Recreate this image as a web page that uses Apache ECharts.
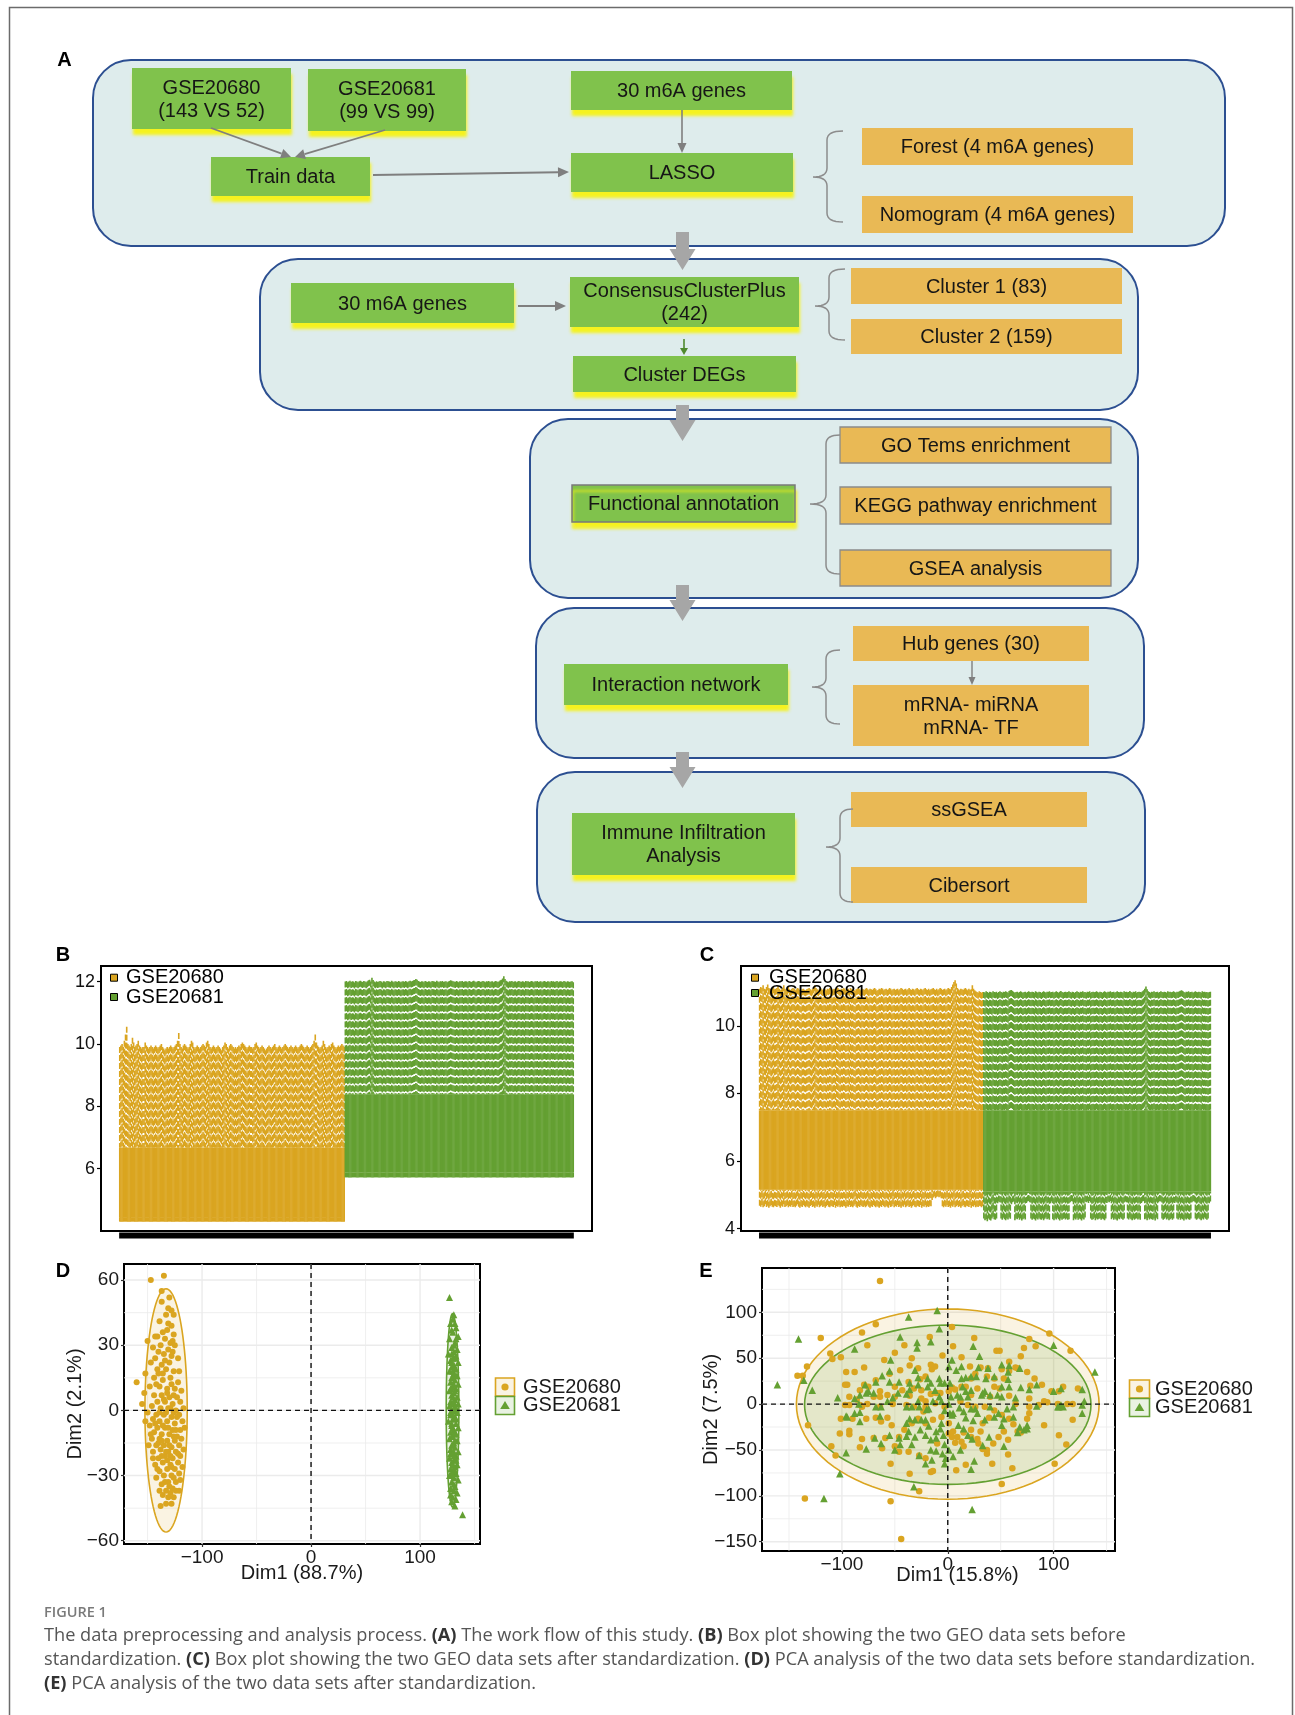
<!DOCTYPE html>
<html><head><meta charset="utf-8">
<script src="https://cdn.jsdelivr.net/npm/echarts@6/dist/echarts.min.js"></script>
<style>html,body{margin:0;padding:0;background:#fff}#c{width:1295px;height:1715px}</style>
</head><body><div id="c"></div>
<script>
// ================= DATA =================
const groups = ['GSE20680', 'GSE20681'];
// Panel B (before standardization): per-sample upper whisker ends; shared lower stats [min, q1, q3]
const b680Box = [4.30, 4.42, 6.67];
const b681Box = [5.72, 5.87, 8.37];
const b680Max = [
9.9,9.95,10.0,9.9,10.1,10.3,10.55,10.0,9.95,9.9,10.0,10.2,10.05,9.9,9.95,
10.0,10.1,9.95,9.9,9.85,9.9,9.9,10.05,9.95,9.9,9.85,9.9,9.95,9.9,9.85,
9.9,9.95,9.9,9.85,9.9,9.95,10.0,9.9,9.85,9.8,9.85,9.9,9.85,9.9,9.95,
9.9,9.85,9.9,9.95,10.0,10.1,10.35,10.0,9.9,9.85,9.95,10.0,9.95,9.9,9.85,
9.9,10.0,10.1,10.05,9.9,9.85,9.9,9.95,9.9,9.85,9.9,9.95,10.0,9.95,9.9,
10.05,10.1,10.0,9.9,9.85,9.9,9.95,9.9,9.85,9.9,9.95,9.9,9.85,9.8,9.9,
9.95,10.05,10.0,9.9,9.85,9.95,10.0,9.95,9.9,9.85,9.9,9.85,9.9,9.95,9.9,
10.0,10.05,10.0,9.95,9.9,9.85,9.9,9.95,9.9,9.9,9.85,9.9,10.0,10.05,9.95,
9.9,9.85,9.9,9.95,9.9,9.85,9.8,9.85,9.9,9.95,9.9,9.85,9.9,9.95,10.0,
9.9,9.85,9.9,9.95,9.9,9.85,9.9,9.95,10.0,9.95,9.9,9.85,9.9,9.95,9.9,
9.85,9.9,9.95,9.9,9.85,9.9,9.95,10.0,9.95,9.9,9.85,9.9,9.95,9.9,9.85,
9.9,9.95,10.0,10.1,10.3,10.05,9.95,9.9,9.85,9.9,9.95,10.1,10.0,9.9,9.85,
9.9,9.95,9.9,10.0,10.05,9.95,9.9,9.85,9.9,9.95,9.9,9.95,10.0,9.95,9.9];
const b681Max = [
12.0,12.02,11.98,12.0,12.03,11.99,12.01,12.0,11.97,12.02,12.0,11.98,12.01,12.03,12.0,
11.99,12.02,12.0,11.98,12.01,12.04,12.06,12.0,12.12,12.05,12.0,11.98,12.01,11.99,12.0,
12.02,12.0,11.97,12.01,12.0,11.98,12.02,12.01,12.0,11.99,12.03,12.0,11.98,12.01,12.0,
11.99,12.02,12.0,11.98,12.0,12.01,11.99,12.02,12.0,11.98,12.01,12.03,12.0,12.02,12.04,
12.05,12.08,12.06,12.02,12.0,11.99,12.01,12.0,11.98,12.02,12.0,11.99,12.01,12.0,11.98,
12.02,12.01,12.0,11.99,12.03,12.0,11.98,12.01,12.0,12.02,11.99,12.0,12.01,11.98,12.0,
12.02,12.04,12.03,12.01,12.0,11.99,12.02,12.0,11.98,12.01,12.0,12.02,11.99,12.0,12.01,
12.0,11.98,12.02,12.0,11.99,12.01,12.03,12.0,11.98,12.0,12.02,12.01,11.99,12.0,12.02,
12.0,11.98,12.01,12.0,12.02,11.99,12.0,12.01,11.98,12.0,12.02,12.0,11.99,12.01,12.04,
12.06,12.1,12.17,12.08,12.03,12.0,11.98,12.01,12.0,12.02,11.99,12.0,12.01,11.98,12.0,
12.02,12.0,11.99,12.01,12.0,11.98,12.02,12.0,12.01,11.99,12.0,12.02,12.0,11.98,12.01,
12.0,12.02,11.99,12.0,12.01,11.98,12.0,12.02,12.0,11.99,12.01,12.0,11.98,12.02,12.0,
12.01,11.99,12.0,12.02,11.98,12.0,12.01,12.0,11.99,12.02,12.0,11.98,12.01,12.0,11.99,
12.0,12.01,11.98];
// Panel C (after standardization): shared box [q1, q3]; per-sample whisker ends
const c680Box = [5.15, 7.50];
const c681Box = [5.10, 7.50];
const c680Max = [
11.1,11.15,11.12,11.2,11.1,11.08,11.15,11.22,11.12,11.1,11.05,11.1,11.14,11.08,11.1,
11.12,11.18,11.1,11.05,11.08,11.12,11.2,11.1,11.06,11.1,11.15,11.08,11.05,11.1,11.12,
11.1,11.05,11.08,11.12,11.1,11.06,11.04,11.08,11.1,11.07,11.05,11.08,11.1,11.12,11.08,
11.05,11.1,11.15,11.2,11.12,11.08,11.05,11.1,11.12,11.08,11.06,11.1,11.08,11.05,11.1,
11.08,11.12,11.1,11.05,11.08,11.1,11.06,11.15,11.12,11.08,11.05,11.1,11.08,11.12,11.1,
11.06,11.08,11.1,11.05,11.12,11.08,11.1,11.06,11.04,11.08,11.1,11.12,11.08,11.05,11.1,
11.08,11.06,11.1,11.12,11.08,11.05,11.1,11.08,11.06,11.1,11.12,11.08,11.04,11.06,11.1,
11.08,11.12,11.1,11.05,11.08,11.1,11.06,11.08,11.12,11.1,11.05,11.08,11.1,11.06,11.08,
11.1,11.05,11.08,11.12,11.1,11.06,11.08,11.1,11.05,11.08,11.12,11.08,11.06,11.1,11.08,
11.05,11.1,11.12,11.08,11.06,11.1,11.08,11.05,11.1,11.12,11.08,11.06,11.1,11.05,11.08,
11.1,11.12,11.08,11.06,11.1,11.05,11.08,11.12,11.1,11.06,11.08,11.1,11.05,11.08,11.12,
11.1,11.08,11.15,11.22,11.3,11.35,11.25,11.12,11.08,11.05,11.1,11.08,11.06,11.1,11.12,
11.08,11.05,11.1,11.06,11.08,11.2,11.1,11.05,11.02,11.0,10.98,11.02,11.0,10.98,11.0];
const c681Max = [
11.0,10.98,11.02,11.0,10.97,11.01,11.0,10.98,11.02,11.0,10.99,11.01,10.97,11.0,11.02,
11.0,10.98,11.01,11.0,11.02,11.0,10.98,11.03,11.05,11.06,11.03,11.0,10.98,11.0,11.01,
10.98,11.0,11.02,11.0,10.97,11.0,11.01,10.98,11.0,11.02,11.0,10.99,11.01,11.0,10.98,
11.02,11.0,10.98,11.01,11.0,10.97,11.0,11.02,11.0,10.98,11.01,11.0,11.02,10.99,11.0,
11.01,10.98,11.0,11.02,11.0,10.98,11.01,11.03,11.0,10.98,11.0,11.01,10.99,11.0,11.02,
11.0,10.98,11.01,11.0,10.97,11.0,11.02,11.0,10.98,11.01,11.0,11.02,10.99,11.0,10.98,
11.01,11.0,11.02,10.98,11.0,11.01,10.99,11.0,11.02,11.0,10.98,11.01,11.0,10.97,11.0,
11.02,11.0,10.98,11.01,11.0,11.02,10.99,11.0,11.01,10.98,11.0,11.02,11.0,10.99,11.01,
11.0,10.98,11.02,11.0,11.01,10.99,11.0,11.03,11.0,10.98,11.01,11.0,11.02,10.98,11.0,
11.01,11.0,10.99,11.02,11.05,11.1,11.16,11.08,11.02,11.0,10.98,11.01,11.0,11.02,10.99,
11.0,11.01,10.98,11.0,11.02,11.0,10.99,11.01,11.0,10.98,11.02,11.0,11.01,10.99,11.0,
11.02,11.0,10.98,11.01,11.0,11.02,11.04,11.05,11.03,11.0,10.98,11.01,11.0,11.02,10.99,
11.0,11.01,10.98,11.0,11.02,11.0,10.99,11.01,11.0,10.98,11.02,11.0,11.01,10.99,11.0,
10.98,11.0,11.01];
const c680Min = [
4.68,4.65,4.7,4.63,4.66,4.72,4.64,4.68,4.62,4.66,4.7,4.65,4.63,4.68,4.66,
4.64,4.7,4.66,4.62,4.68,4.65,4.72,4.64,4.66,4.69,4.63,4.67,4.65,4.7,4.64,
4.66,4.63,4.68,4.72,4.65,4.62,4.67,4.64,4.7,4.66,4.63,4.68,4.65,4.62,4.67,
4.7,4.64,4.66,4.62,4.68,4.65,4.71,4.63,4.66,4.69,4.64,4.67,4.62,4.66,4.7,
4.65,4.63,4.68,4.66,4.64,4.7,4.62,4.67,4.65,4.69,4.63,4.66,4.64,4.68,4.66,
4.62,4.67,4.65,4.7,4.64,4.66,4.63,4.68,4.72,4.65,4.62,4.67,4.64,4.69,4.66,
4.64,4.68,4.63,4.66,4.71,4.65,4.62,4.67,4.64,4.7,4.66,4.63,4.68,4.65,4.62,
4.67,4.64,4.7,4.66,4.63,4.68,4.65,4.62,4.69,4.64,4.66,4.72,4.63,4.67,4.65,
4.7,4.64,4.66,4.62,4.68,4.65,4.71,4.63,4.66,4.69,4.64,4.67,4.62,4.66,4.7,
4.65,4.63,4.68,4.66,4.64,4.7,4.62,4.67,4.65,4.69,4.63,4.66,4.64,4.68,4.66,
4.85,4.92,4.95,4.9,4.94,4.96,4.93,4.95,4.9,4.66,4.63,4.68,4.65,4.7,4.64,
4.66,4.62,4.68,4.65,4.71,4.63,4.66,4.69,4.64,4.67,4.62,4.66,4.7,4.65,4.63,
4.68,4.66,4.64,4.7,4.62,4.67,4.65,4.69,4.63,4.66,4.64,4.68,4.66,4.63,4.67];
const c681Min = [
4.3,4.25,4.28,4.22,4.3,4.26,4.24,4.3,4.35,4.28,4.26,4.3,4.75,4.8,4.78,
4.3,4.26,4.32,4.28,4.25,4.3,4.27,4.33,4.29,4.72,4.78,4.8,4.25,4.3,4.28,
4.32,4.26,4.3,4.24,4.28,4.31,4.27,4.76,4.8,4.82,4.78,4.3,4.26,4.3,4.28,
4.24,4.3,4.27,4.32,4.28,4.26,4.3,4.25,4.29,4.33,4.28,4.3,4.26,4.75,4.8,
4.28,4.25,4.3,4.27,4.32,4.28,4.24,4.3,4.26,4.29,4.31,4.27,4.3,4.26,4.28,
4.78,4.82,4.8,4.25,4.3,4.27,4.32,4.26,4.3,4.28,4.24,4.3,4.27,4.33,4.78,
4.8,4.76,4.82,4.3,4.26,4.28,4.32,4.25,4.3,4.27,4.29,4.31,4.26,4.3,4.28,
4.25,4.3,4.76,4.8,4.78,4.82,4.28,4.32,4.26,4.3,4.27,4.24,4.3,4.28,4.33,
4.29,4.26,4.3,4.8,4.78,4.3,4.27,4.32,4.28,4.25,4.3,4.26,4.29,4.31,4.27,
4.3,4.26,4.76,4.8,4.82,4.28,4.3,4.25,4.32,4.27,4.3,4.28,4.26,4.3,4.24,
4.32,4.28,4.78,4.82,4.8,4.3,4.26,4.29,4.33,4.27,4.3,4.25,4.28,4.31,4.26,
4.3,4.76,4.8,4.3,4.27,4.32,4.26,4.3,4.28,4.24,4.3,4.27,4.31,4.28,4.26,
4.3,4.78,4.82,4.8,4.3,4.26,4.29,4.32,4.28,4.25,4.3,4.27,4.33,4.29,4.26,
4.3,4.75,4.8];
const bYTicks = [6, 8, 10, 12];
const cYTicks = [4, 6, 8, 10];
// Panel D (PCA before)
const dXTicks = [-100, 0, 100];
const dYTicks = [-60, -30, 0, 30, 60];
const dMinorX = [-150, -50, 50, 150];
const dMinorY = [-45, -15, 15, 45];
const dEll680 = [-133, 0, 19.4, 56];
const dEll681 = [129.8, 0, 5.8, 44.5];
const dPts680 = [[-147,60],[-135,62],[-137,50],[-130,52],[-128,46],[-133,44],[-126,44],[-139,41],[-131,40],[-128,39],[-143,34],[-150,32],[-141,34],[-134,33],[-127,32],[-138,30],[-145,29],[-131,28],[-125,30],[-140,27],[-135,26],[-128,25],[-143,24],[-130,22],[-122,24],[-137,21],[-147,22],[-133,19],[-126,18],[-140,17],
[-160,13],[-152,17],[-144,15],[-136,14],[-129,15],[-122,13],[-148,11],[-139,11],[-132,10],[-125,10],[-119,9],[-153,8],[-144,7],[-137,7],[-130,6],[-123,6],[-141,4],[-134,4],[-127,3],[-120,4],[-146,2],[-138,1],[-131,1],[-124,0],[-117,1],
[-150,-1],[-142,-2],[-135,-2],[-128,-3],[-121,-2],[-145,-4],[-139,-5],[-132,-5],[-125,-6],[-118,-5],[-148,-7],[-141,-8],[-134,-8],[-127,-9],[-120,-9],[-144,-10],[-137,-11],[-130,-11],[-123,-12],[-139,-13],[-132,-14],[-125,-14],[-146,-13],[-119,-13],[-135,-16],
[-142,-16],[-128,-17],[-121,-16],[-138,-18],[-131,-19],[-124,-19],[-145,-19],[-134,-21],[-127,-22],[-140,-22],[-120,-21],[-136,-24],[-129,-25],[-122,-24],[-143,-25],[-132,-27],[-125,-27],[-139,-28],[-118,-26],[-135,-30],[-128,-30],[-142,-31],[-121,-29],
[-131,-33],[-124,-33],[-137,-34],[-127,-36],[-133,-37],[-120,-32],[-129,-38],[-136,-39],[-126,-40],[-133,-43],[-130,-35],[-139,-37],
[-136,36],[-132,37],[-129,31],[-136,17],[-142,12],[-128,12],[-121,18],[-133,-1],[-126,-1],[-139,-1],[-131,-8],[-124,-9],[-136,-7],[-140,-15],[-126,-12],[-133,-19],[-137,-21],[-129,-21],[-122,-20],[-141,-27],[-126,-31],[-134,-33],[-131,-40],[-124,-37],[-128,-43],[-135,5],[-129,1],[-143,-6],[-132,8],[-126,7],[-147,-11],[-117,-18],[-130,-16],[-137,-14],[-123,-3],[-141,19],[-134,23],[-127,27],[-131,47],[-137,55],[-126,35],[-121,-37],[-138,-44],[-145,-22],[-116,-8],[-152,-5],[-149,-16],[-155,3],[-128,-26],[-132,-23]];
const dPts681 = [[131,44],[128,40],[133,38],[130,36],[135,34],[127,33],[132,31],[129,29],[134,28],[131,27],[126,26],[133,25],[130,24],[128,23],[135,22],[131,21],[129,20],[133,19],[127,18],[131,17],[134,16],[129,15],[132,14],[128,13],[135,12],[130,11],[133,10],[127,9],[131,8],[129,7],[134,6],[132,5],[128,4],[130,3],[135,3],[127,2],[133,1],[129,0],[131,0],[134,-1],[128,-2],[132,-3],[130,-4],[126,-5],[133,-6],[129,-7],[135,-8],[131,-9],[128,-10],[133,-11],[130,-12],[127,-13],[134,-14],[131,-15],[129,-16],[132,-17],[128,-18],[135,-19],[130,-20],[133,-21],[127,-22],[131,-23],[129,-24],[134,-25],[132,-26],[128,-27],[130,-28],[133,-29],[127,-30],[131,-31],[135,-32],[129,-33],[132,-35],[128,-36],[131,-37],[134,-38],[130,-40],[129,-42],[132,-44],[127,52],[139,-48],
[130,15],[132,9],[128,-1],[133,-4],[130,-8],[129,-12],[132,-14],[130,20],[131,30],[133,33],[129,37],[130,-25],[131,-34],[128,-39],[133,-41],[130,42],[132,40],[129,26],[131,12],[130,6],[128,-20],[133,-23],[131,-19],[130,-30],[129,-6],[132,2],[130,-2],[131,4],[128,10],[133,16],[129,22],[132,24],[130,18],[131,-27],[129,-29],[132,-10],[130,-16],[131,-21]];
// Panel E (PCA after)
const eXTicks = [-100, 0, 100];
const eYTicks = [-150, -100, -50, 0, 50, 100];
const eMinorX = [-150, -50, 50, 150];
const eMinorY = [-125, -75, -25, 25, 75, 125];
const eEll680 = [0, 0, 143, 103.7];
const eEll681 = [0, -0.7, 135.3, 86.8];
const ePts680 = [[-64,134],[-68,87],[-81,78],[-120,72],[-76,64],[-111,55],[-109,49],[-133,41],[-137,31],[-79,40],[-96,35],[-88,35],[-95,21],[-79,21],[-68,26],[-55,33],[-45,37],[-50,56],[-60,48],[-41,64],[-34,50],[-28,39],[-17,73],[-15,38],[-12,41],[-5,53],[4,84],[5,63],[13,51],[25,72],[21,41],[31,40],[38,39],[46,58],[49,58],[58,46],[66,39],[69,52],[72,61],[77,71],[83,63],[96,77],[116,58],[78,20],[98,14],[105,14],[113,0],[118,-17],[104,0],[94,2],[77,-10],[66,-30],[57,-39],[57,-55],[61,-70],[51,-87],[101,-65],[105,-34],[112,-44],[37,-50],[37,-54],[43,-43],[44,-7],[35,-3],[26,-3],[22,10],[17,19],[7,16],[4,18],[1,14],[-16,43],[-25,6],[-21,-3],[-32,-3],[-39,-1],[-52,0],[-64,-3],[-76,0],[-93,8],[-93,-1],[-81,-3],[-68,-15],[-77,-16],[-57,-15],[-93,-29],[-93,-33],[-83,-47],[-70,-37],[-59,-37],[-46,-36],[-46,-52],[-37,-52],[-27,-56],[-14,-73],[-16,-74],[-27,-95],[-54,-106],[-44,-147],[-135,-103],[-132,-23],[-142,31],[-101,51],[-97,-1],[-97,21],[-36,42],[-21,30],[-26,27],[-32,17],[-43,15],[-50,8],[-36,9],[-16,11],[-11,12],[-7,12],[-23,-8],[-28,-16],[-34,-21],[-21,-21],[-14,-17],[-6,-14],[1,-21],[5,-30],[4,-36],[7,-42],[15,-31],[22,-28],[31,-30],[33,-21],[39,-15],[51,-12],[58,-16],[62,-22],[69,-31],[75,-16],[77,-3],[64,0],[58,9],[49,17],[44,19],[40,8],[28,17],[13,19],[22,28],[26,33],[37,30],[44,28],[51,38],[53,28],[58,36],[64,40],[75,35],[82,28],[89,21],[91,3],[86,-1],[77,6],[118,0],[19,-1],[12,3],[-3,-3],[-12,1],[-21,3],[-25,15],[-37,24],[-50,19],[-57,10],[-64,14],[-70,8],[-64,8],[-75,19],[-83,15],[-86,5],[-83,-1],[-90,-16],[-101,-16],[-102,-32],[-106,-56],[-110,-46],[-81,-38],[-63,-19],[-53,-23],[-41,-28],[-50,-46],[-62,-48],[-54,-65],[-36,-76],[-21,-59],[-10,-43],[1,-32],[9,-36],[13,-41],[22,-36],[28,-38],[33,-49],[42,-65],[17,-66],[8,-72],[29,-43],[15,-46],[48,-36],[53,-30],[91,-23],[123,17],[109,19]];
const ePts681 = [[-141,71],[-161,21],[-136,26],[-128,15],[-104,7],[-96,-13],[-88,-10],[-83,-9],[-77,12],[-75,14],[-70,12],[-77,-49],[-96,-53],[-102,-76],[-117,-103],[-88,60],[-62,31],[-54,48],[-45,73],[-37,95],[-29,67],[-29,61],[-16,68],[-10,102],[-8,82],[-55,24],[-46,24],[-36,23],[-28,29],[-19,28],[-16,23],[-7,23],[-3,23],[1,41],[4,48],[2,23],[8,37],[13,41],[17,29],[13,28],[22,30],[29,40],[24,63],[30,52],[38,39],[36,28],[51,43],[57,35],[57,27],[68,39],[84,21],[77,16],[100,64],[100,14],[107,17],[127,16],[139,35],[127,-10],[129,3],[105,-3],[107,-1],[109,-3],[75,-27],[72,-28],[66,-31],[51,-23],[53,-16],[44,-14],[35,-17],[28,-10],[26,-5],[22,-5],[19,8],[17,14],[12,8],[9,10],[3,8],[1,0],[2,-10],[5,-10],[-3,-7],[-6,-21],[-7,-27],[-4,-34],[-3,-44],[1,-50],[-5,-54],[-2,-59],[5,-57],[-3,-65],[-15,-61],[-16,-39],[-11,-30],[-18,-24],[-21,-17],[-20,-6],[-27,-3],[-34,-3],[-25,-17],[-31,-17],[-36,-16],[-39,-21],[-37,-30],[-39,-35],[-45,-44],[-34,-44],[-31,-36],[-26,-28],[-21,-34],[-11,-37],[-11,-51],[-16,-50],[-27,-56],[-46,-37],[-55,-34],[-69,-37],[-64,-13],[-63,-3],[-57,3],[-52,7],[-47,12],[-39,11],[-36,16],[-28,21],[-19,19],[-12,15],[-8,28],[14,19],[22,15],[32,10],[35,14],[40,10],[47,10],[56,-5],[62,-3],[51,8],[58,19],[27,30],[33,12],[40,-3],[48,-10],[62,-14],[75,-23],[24,-18],[17,-15],[15,-8],[11,-4],[4,-12],[10,-23],[15,-27],[19,-34],[23,-38],[25,-62],[23,-115],[-32,-90],[-31,37],[-55,36],[-68,24],[-78,21],[-83,10],[-88,6],[-84,0],[-95,-14],[-68,-3],[-83,-19],[-39,-3],[-28,3],[-18,-5],[-14,3],[-8,8],[-6,3],[84,-2],[127,-1],[104,-3],[64,7],[69,18],[51,19],[44,30],[58,42],[68,-25],[53,-46],[39,-36],[33,-45],[22,-71],[12,-50],[-21,-65],[-50,-50],[-63,-43]];

// ================= STYLE / LAYOUT =================
const ORANGE = '#DAA520', GREEN = '#64A032';
const ORANGE_F = 'rgba(218,165,32,0.13)', GREEN_F = 'rgba(100,160,50,0.14)';
const FONT = '"Liberation Sans", Arial, sans-serif';
const TXT = '#1a1a1a';
const fmt = v => (v < 0 ? '\u2212' + Math.abs(v) : String(v));

const bXRange = [-15.22, 409.22];
const bYRange = [4.0, 12.5];
const cYRange = [3.93, 11.77];
const dXRange = [-171.6, 155], dYRange = [-61.5, 67.4];
const eXRange = [-175.5, 158], eYRange = [-160.1, 148.3];

// build box tables
const n680 = b680Max.length, n681 = b681Max.length;
const bData680 = b680Max.map((mx, i) => [i + 1, b680Box[0], b680Box[1], b680Box[2], mx]);
const bData681 = b681Max.map((mx, i) => [n680 + i + 1, b681Box[0], b681Box[1], b681Box[2], mx]);
const cData680 = c680Max.map((mx, i) => [i + 1, c680Min[i], c680Box[0], c680Box[1], mx]);
const cData681 = c681Max.map((mx, i) => [n680 + i + 1, c681Min[i], c681Box[0], c681Box[1], mx]);

function boxRender(color) {
  return function (params, api) {
    const x = api.value(0), mn = api.value(1), q1 = api.value(2), q3 = api.value(3), mx = api.value(4);
    const pQ1 = api.coord([x, q1]), pQ3 = api.coord([x, q3]);
    const pMn = api.coord([x, mn]), pMx = api.coord([x, mx]);
    const w = api.size([1.4, 0])[0];
    return { type: 'group', children: [
      { type: 'rect', shape: { x: pQ1[0] - w / 2, y: pQ3[1], width: w, height: pQ1[1] - pQ3[1] }, style: { fill: color } },
      { type: 'line', shape: { x1: pMx[0], y1: pMx[1], x2: pQ3[0], y2: pQ3[1] }, style: { stroke: color, lineWidth: 1.6, lineDash: [6, 2] } },
      { type: 'line', shape: { x1: pMn[0], y1: pMn[1], x2: pQ1[0], y2: pQ1[1] }, style: { stroke: color, lineWidth: 1.6, lineDash: [6, 2] } }
    ]};
  };
}
function barRender(params, api) {
  const cs = params.coordSys;
  const a = api.coord([api.value(0), 0]), b = api.coord([api.value(1), 0]);
  return { type: 'rect', shape: { x: a[0] - 0.6, y: cs.y + cs.height + 1.5, width: b[0] - a[0] + 1.2, height: 6 }, style: { fill: '#000' } };
}
function gridRender(params, api) {
  const cs = params.coordSys;
  const v = api.value(0), o = api.value(1), major = api.value(2);
  const st = { stroke: '#ebebeb', lineWidth: major ? 1.4 : 0.8 };
  if (o === 0) { const p = api.coord([v, 0]); return { type: 'line', shape: { x1: p[0], y1: cs.y, x2: p[0], y2: cs.y + cs.height }, style: st }; }
  const p = api.coord([0, v]); return { type: 'line', shape: { x1: cs.x, y1: p[1], x2: cs.x + cs.width, y2: p[1] }, style: st };
}
function zeroRender(params, api) {
  const cs = params.coordSys;
  const o = api.value(0);
  const st = { stroke: '#111', lineWidth: 1.4, lineDash: [5, 4] };
  const p = api.coord([0, 0]);
  if (o === 0) return { type: 'line', shape: { x1: p[0], y1: cs.y, x2: p[0], y2: cs.y + cs.height }, style: st };
  return { type: 'line', shape: { x1: cs.x, y1: p[1], x2: cs.x + cs.width, y2: p[1] }, style: st };
}
function ellRender(stroke, fill) {
  return function (params, api) {
    const c = api.coord([api.value(0), api.value(1)]);
    const s = api.size([api.value(2), api.value(3)]);
    const pts = [];
    for (let k = 0; k < 96; k++) { const t = k / 96 * Math.PI * 2; pts.push([c[0] + s[0] * Math.cos(t), c[1] + s[1] * Math.sin(t)]); }
    return { type: 'polygon', shape: { points: pts }, style: { fill: fill, stroke: stroke, lineWidth: 1.6 } };
  };
}
function gridData(majX, minX, majY, minY) {
  return majX.map(v => [v, 0, 1]).concat(minX.map(v => [v, 0, 0]), majY.map(v => [v, 1, 1]), minY.map(v => [v, 1, 0]));
}
function pcaAxis(grid, range, ticks, name, gap, pad, isY) {
  return {
    gridIndex: grid, type: 'value', min: range[0], max: range[1],
    axisLine: { show: false, onZero: false }, splitLine: { show: false },
    axisTick: { show: true, length: 3, customValues: ticks, lineStyle: { color: '#333', width: 1.2 } },
    axisLabel: { customValues: ticks, formatter: fmt, fontSize: 19, color: TXT, margin: isY ? 5 : 4, fontFamily: FONT },
    name: name, nameLocation: 'middle', nameGap: gap, nameMoveOverlap: false,
    nameTextStyle: { fontSize: 20, color: TXT, fontFamily: FONT, padding: pad }
  };
}
function boxYAxis(grid, range, ticks) {
  return {
    gridIndex: grid, type: 'value', min: range[0], max: range[1],
    axisLine: { show: false, onZero: false }, splitLine: { show: false },
    axisTick: { show: true, length: 4, customValues: ticks, lineStyle: { color: '#000', width: 1.2 } },
    axisLabel: { customValues: ticks, fontSize: 18, color: '#111', margin: 6, fontFamily: FONT }
  };
}

// ================= FLOWCHART GRAPHICS =================
const G = [];
const FF = '20px "Liberation Sans", Arial, sans-serif';
function T(x, y, text, font, fill, align, z) {
  G.push({ type: 'text', z: z || 20, style: { text: text, x: x, y: y, font: font || FF, fill: fill || '#161616',
    align: align || 'center', verticalAlign: 'middle', textAlign: align || 'center', textVerticalAlign: 'middle', lineHeight: 23 } });
}
const containers = [[93, 60, 1132, 186], [260, 259, 878, 151], [530, 419, 608, 179], [536, 608, 608, 150], [537, 772, 608, 150]];
containers.forEach(c => G.push({ type: 'rect', z: 1, shape: { x: c[0], y: c[1], width: c[2], height: c[3], r: 38 }, style: { fill: '#deecec', stroke: '#2c4f91', lineWidth: 2 } }));
// block arrows
[[232, 270], [405, 441], [585, 621], [752, 788]].forEach(a => {
  const cx = 682.5, y0 = a[0], y1 = a[1], yh = y1 - 21;
  G.push({ type: 'polygon', z: 5, shape: { points: [[cx - 6.5, y0], [cx + 6.5, y0], [cx + 6.5, yh], [cx + 13, yh], [cx, y1], [cx - 13, yh], [cx - 6.5, yh]] }, style: { fill: '#a6a6a6' } });
});
const greenBoxes = [
  [['GSE20680', '(143 VS 52)'], 132, 68, 159, 61, 0],
  [['GSE20681', '(99 VS 99)'], 308, 69, 158, 62, 0],
  [['Train data'], 211, 157, 159, 39, 0],
  [['30 m6A genes'], 571, 71, 221, 39, 0],
  [['LASSO'], 571, 153, 222, 39, 0],
  [['30 m6A genes'], 291, 283, 223, 40, 0],
  [['ConsensusClusterPlus', '(242)'], 570, 277, 229, 50, 0],
  [['Cluster DEGs'], 573, 356, 223, 36, 0],
  [['Functional annotation'], 572, 485, 223, 37, 1],
  [['Interaction network'], 564, 664, 224, 41, 0],
  [['Immune Infiltration', 'Analysis'], 572, 813, 223, 62, 0]
];
greenBoxes.forEach(b => {
  G.push({ type: 'rect', z: 8, shape: { x: b[1], y: b[2], width: b[3], height: b[4] },
    style: { fill: '#80c24c', stroke: b[5] ? '#7a7a7a' : null, lineWidth: 1.5, shadowColor: 'rgba(246,242,20,0.95)', shadowBlur: 3, shadowOffsetX: 1, shadowOffsetY: 6 } });
  T(b[1] + b[3] / 2, b[2] + b[4] / 2 + 1, b[0].join('\n'));
});
const orangeBoxes = [
  [['Forest (4 m6A genes)'], 862, 128, 271, 37, 0],
  [['Nomogram (4 m6A genes)'], 862, 196, 271, 37, 0],
  [['Cluster 1 (83)'], 851, 268, 271, 36, 0],
  [['Cluster 2 (159)'], 851, 319, 271, 35, 0],
  [['GO Tems enrichment'], 840, 427, 271, 36, 1],
  [['KEGG pathway enrichment'], 840, 487, 271, 37, 1],
  [['GSEA analysis'], 840, 550, 271, 36, 1],
  [['Hub genes (30)'], 853, 626, 236, 35, 0],
  [['mRNA- miRNA', 'mRNA- TF'], 853, 685, 236, 61, 0],
  [['ssGSEA'], 851, 792, 236, 35, 0],
  [['Cibersort'], 851, 867, 236, 36, 0]
];
orangeBoxes.forEach(b => {
  G.push({ type: 'rect', z: 8, shape: { x: b[1], y: b[2], width: b[3], height: b[4] }, style: { fill: '#e9b955', stroke: b[5] ? '#8a8a8a' : null, lineWidth: 1.3 } });
  T(b[1] + b[3] / 2, b[2] + b[4] / 2 + 1, b[0].join('\n'));
});
function arrow(x1, y1, x2, y2, color, lw, hl, hw) {
  const dx = x2 - x1, dy = y2 - y1, L = Math.hypot(dx, dy), ux = dx / L, uy = dy / L;
  const bx = x2 - ux * hl, by = y2 - uy * hl;
  G.push({ type: 'line', z: 9, shape: { x1: x1, y1: y1, x2: bx, y2: by }, style: { stroke: color, lineWidth: lw } });
  G.push({ type: 'polygon', z: 9, shape: { points: [[x2, y2], [bx - uy * hw, by + ux * hw], [bx + uy * hw, by - ux * hw]] }, style: { fill: color } });
}
arrow(211, 128, 291, 157, '#7f7f7f', 1.8, 10, 5);
arrow(385, 130, 295, 157, '#7f7f7f', 1.8, 10, 5);
arrow(373, 175, 569, 172, '#7f7f7f', 2, 11, 5);
arrow(682, 110, 682, 153, '#7f7f7f', 1.6, 10, 4.5);
arrow(518, 306, 566, 306, '#7f7f7f', 1.8, 11, 5);
arrow(684, 339, 684, 355, '#4f8a2e', 1.6, 7, 4);
arrow(972, 661, 972, 685, '#7f7f7f', 1.4, 8, 3.5);
function brace(xt, xv, xa, y1, ym, y2) {
  const pts = [], r = 9;
  function quad(p0, c, p1) { for (let i = 0; i <= 8; i++) { const t = i / 8, a = (1 - t) * (1 - t), b = 2 * (1 - t) * t, d = t * t; pts.push([a * p0[0] + b * c[0] + d * p1[0], a * p0[1] + b * c[1] + d * p1[1]]); } }
  quad([xa, y1], [xv, y1], [xv, y1 + r]);
  quad([xv, ym - r], [xv, ym], [xt, ym]);
  quad([xt, ym], [xv, ym], [xv, ym + r]);
  quad([xv, y2 - r], [xv, y2], [xa, y2]);
  G.push({ type: 'polyline', z: 9, shape: { points: pts }, style: { stroke: '#8c8c8c', lineWidth: 1.5, fill: null } });
}
brace(813, 827, 843, 131, 177, 222);
brace(815, 829, 845, 269, 306, 340);
brace(810, 826, 840, 435, 504, 574);
brace(812, 826, 840, 650, 687, 724);
brace(826, 840, 853, 809, 847, 902);

// panel letters
const BOLD = 'bold 20px "Liberation Sans", Arial, sans-serif';
[['A', 64.5, 60], ['B', 63, 955.5], ['C', 707, 955], ['D', 63, 1271], ['E', 706, 1271]].forEach(l => T(l[1], l[2], l[0], BOLD, '#000'));

// legends B / C (small filled squares)
function smallLegend(x, ys, tx) {
  groups.forEach((g, i) => {
    G.push({ type: 'rect', z: 30, shape: { x: x - 3.5, y: ys[i] - 3.5, width: 7, height: 7 }, style: { fill: i ? GREEN : ORANGE, stroke: '#000', lineWidth: 1 } });
    T(tx, ys[i], g, '20px "Liberation Sans", Arial, sans-serif', '#000', 'left', 30);
  });
}
smallLegend(114, [977.7, 997], 126);
smallLegend(755, [977.7, 993], 769);
// legends D / E (framed keys with symbols)
function pcaLegend(x, ys, w, h, tx) {
  groups.forEach((g, i) => {
    const col = i ? GREEN : ORANGE;
    G.push({ type: 'rect', z: 30, shape: { x: x, y: ys[i] - h / 2, width: w, height: h }, style: { fill: i ? GREEN_F : ORANGE_F, stroke: col, lineWidth: 1.6 } });
    const cx = x + w / 2, cy = ys[i];
    if (i === 0) G.push({ type: 'circle', z: 31, shape: { cx: cx, cy: cy, r: 3.6 }, style: { fill: col } });
    else G.push({ type: 'polygon', z: 31, shape: { points: [[cx, cy - 4.5], [cx + 4.8, cy + 3.5], [cx - 4.8, cy + 3.5]] }, style: { fill: col } });
    T(tx, ys[i], g, '20px "Liberation Sans", Arial, sans-serif', TXT, 'left', 30);
  });
}
pcaLegend(495.5, [1387, 1405.5], 19, 18, 523);
pcaLegend(1129.5, [1389, 1407.5], 20, 18, 1155);

// caption
const CF = '18.2px "Open Sans", Lato, sans-serif';
const rich = { b: { fontWeight: 'bold', fontSize: 18.2, fontFamily: '"Open Sans", Lato, sans-serif', fill: '#333' } };
G.push({ type: 'text', z: 20, style: { text: 'FIGURE 1', x: 44, y: 1613, font: '600 14.5px "Open Sans", Lato, sans-serif', fill: '#7a7a7a', align: 'left', verticalAlign: 'middle', textAlign: 'left', textVerticalAlign: 'middle' } });
const capLines = [
  'The data preprocessing and analysis process. {b|(A)} The work flow of this study. {b|(B)} Box plot showing the two GEO data sets before',
  'standardization. {b|(C)} Box plot showing the two GEO data sets after standardization. {b|(D)} PCA analysis of the two data sets before standardization.',
  '{b|(E)} PCA analysis of the two data sets after standardization.'
];
capLines.forEach((s, i) => G.push({ type: 'text', z: 20, style: { text: s, x: 44, y: 1636 + i * 24, font: CF, fill: '#555', rich: rich, align: 'left', verticalAlign: 'middle', textAlign: 'left', textVerticalAlign: 'middle' } }));
// outer frame (open at bottom)
G.push({ type: 'polyline', z: 1, shape: { points: [[9.5, 1715], [9.5, 7.5], [1292.5, 7.5], [1292.5, 1715]] }, style: { stroke: '#6b6b6b', lineWidth: 1.5, fill: null } });

// ================= OPTION =================
const option = {
  animation: false,
  backgroundColor: '#fff',
  textStyle: { fontFamily: FONT },
  grid: [
    { left: 101, top: 966, width: 491, height: 265, show: true, borderColor: '#000', borderWidth: 2, backgroundColor: 'transparent' },
    { left: 741, top: 966, width: 488, height: 265, show: true, borderColor: '#000', borderWidth: 2, backgroundColor: 'transparent' },
    { left: 124, top: 1264, width: 356, height: 280, show: true, borderColor: '#000', borderWidth: 2, backgroundColor: 'transparent' },
    { left: 762, top: 1268, width: 353, height: 283, show: true, borderColor: '#000', borderWidth: 2, backgroundColor: 'transparent' }
  ],
  xAxis: [
    { gridIndex: 0, type: 'value', min: bXRange[0], max: bXRange[1], show: false },
    { gridIndex: 1, type: 'value', min: bXRange[0], max: bXRange[1], show: false },
    pcaAxis(2, dXRange, dXTicks, 'Dim1 (88.7%)', 19, [0, 0, 0, 0], false),
    pcaAxis(3, eXRange, eXTicks, 'Dim1 (15.8%)', 14, [0, 0, 0, 38], false)
  ],
  yAxis: [
    boxYAxis(0, bYRange, bYTicks),
    boxYAxis(1, cYRange, cYTicks),
    pcaAxis(2, dYRange, dYTicks, 'Dim2 (2.1%)', 39, [0, 0, 0, 0], true),
    pcaAxis(3, eYRange, eYTicks, 'Dim2 (7.5%)', 41, [0, 0, 0, 0], true)
  ],
  series: [
    { type: 'custom', name: groups[0], xAxisIndex: 0, yAxisIndex: 0, data: bData680, renderItem: boxRender(ORANGE), z: 2 },
    { type: 'custom', name: groups[1], xAxisIndex: 0, yAxisIndex: 0, data: bData681, renderItem: boxRender(GREEN), z: 2 },
    { type: 'custom', name: 'labels', xAxisIndex: 0, yAxisIndex: 0, data: [[1, n680 + n681]], renderItem: barRender, z: 2 },
    { type: 'custom', name: groups[0], xAxisIndex: 1, yAxisIndex: 1, data: cData680, renderItem: boxRender(ORANGE), z: 2 },
    { type: 'custom', name: groups[1], xAxisIndex: 1, yAxisIndex: 1, data: cData681, renderItem: boxRender(GREEN), z: 2 },
    { type: 'custom', name: 'labels', xAxisIndex: 1, yAxisIndex: 1, data: [[1, n680 + n681]], renderItem: barRender, z: 2 },
    // D
    { type: 'custom', name: 'grid', xAxisIndex: 2, yAxisIndex: 2, data: gridData(dXTicks, dMinorX, dYTicks, dMinorY), renderItem: gridRender, z: 1, silent: true },
    { type: 'custom', name: groups[0], xAxisIndex: 2, yAxisIndex: 2, data: [dEll680], renderItem: ellRender(ORANGE, ORANGE_F), z: 2 },
    { type: 'custom', name: groups[1], xAxisIndex: 2, yAxisIndex: 2, data: [dEll681], renderItem: ellRender(GREEN, GREEN_F), z: 2 },
    { type: 'scatter', name: groups[0], xAxisIndex: 2, yAxisIndex: 2, data: dPts680, symbol: 'circle', symbolSize: 6, itemStyle: { color: ORANGE, opacity: 1 }, z: 3 },
    { type: 'scatter', name: groups[1], xAxisIndex: 2, yAxisIndex: 2, data: dPts681, symbol: 'triangle', symbolSize: 7, itemStyle: { color: GREEN, opacity: 1 }, z: 3 },
    { type: 'custom', name: 'zero', xAxisIndex: 2, yAxisIndex: 2, data: [[0], [1]], renderItem: zeroRender, z: 4, silent: true },
    // E
    { type: 'custom', name: 'grid', xAxisIndex: 3, yAxisIndex: 3, data: gridData(eXTicks, eMinorX, eYTicks, eMinorY), renderItem: gridRender, z: 1, silent: true },
    { type: 'custom', name: groups[0], xAxisIndex: 3, yAxisIndex: 3, data: [eEll680], renderItem: ellRender(ORANGE, ORANGE_F), z: 2 },
    { type: 'custom', name: groups[1], xAxisIndex: 3, yAxisIndex: 3, data: [eEll681], renderItem: ellRender(GREEN, GREEN_F), z: 2 },
    { type: 'scatter', name: groups[0], xAxisIndex: 3, yAxisIndex: 3, data: ePts680, symbol: 'circle', symbolSize: 6.5, itemStyle: { color: ORANGE, opacity: 1 }, z: 3 },
    { type: 'scatter', name: groups[1], xAxisIndex: 3, yAxisIndex: 3, data: ePts681, symbol: 'triangle', symbolSize: 7.5, itemStyle: { color: GREEN, opacity: 1 }, z: 3 },
    { type: 'custom', name: 'zero', xAxisIndex: 3, yAxisIndex: 3, data: [[0], [1]], renderItem: zeroRender, z: 4, silent: true }
  ],
  graphic: { elements: G }
};
const chart = echarts.init(document.getElementById('c'), null, { renderer: 'canvas', width: 1295, height: 1715 });
chart.setOption(option);
</script></body></html>
